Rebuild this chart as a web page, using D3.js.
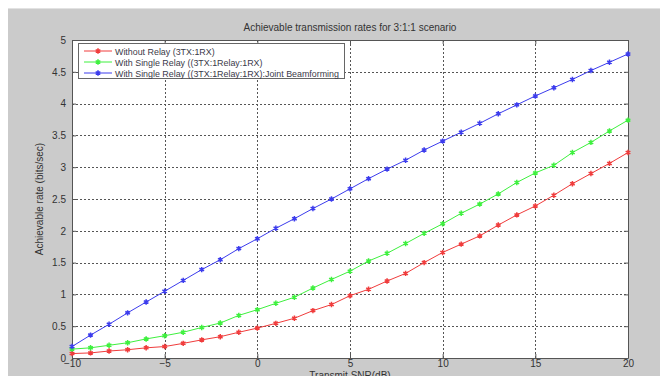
<!DOCTYPE html>
<html>
<head>
<meta charset="utf-8">
<script src="https://cdn.jsdelivr.net/npm/d3@7"></script>
<style>
  body { margin: 0; background: #fff; }
  text { font-family: "Liberation Sans", Arial, sans-serif; }
</style>
</head>
<body>
<svg id="chart" width="665" height="376"></svg>
<script>
// data
const snr = d3.range(-10, 21); // -10 ... 20 dB
const noRelay = [0.07, 0.08, 0.11, 0.13, 0.16, 0.18, 0.23, 0.285, 0.335, 0.405, 0.47,
  0.545, 0.625, 0.745, 0.84, 0.98, 1.08, 1.21, 1.33, 1.50, 1.66,
  1.79, 1.92, 2.09, 2.25, 2.39, 2.56, 2.74, 2.90, 3.06, 3.23];
const singleRelay = [0.14, 0.16, 0.20, 0.24, 0.30, 0.35, 0.405, 0.48, 0.55, 0.67, 0.76,
  0.86, 0.955, 1.10, 1.235, 1.365, 1.525, 1.646, 1.80, 1.96, 2.11,
  2.275, 2.42, 2.58, 2.76, 2.91, 3.03, 3.23, 3.39, 3.57, 3.74];
const jointBf = [0.18, 0.36, 0.53, 0.71, 0.88, 1.05, 1.22, 1.39, 1.545, 1.72, 1.875,
  2.04, 2.19, 2.35, 2.50, 2.66, 2.82, 2.97, 3.11, 3.27, 3.41,
  3.55, 3.69, 3.84, 3.98, 4.12, 4.25, 4.38, 4.52, 4.65, 4.78];
const seriesNames = ["Without Relay (3TX:1RX)", "With Single Relay ((3TX:1Relay:1RX)",
  "With Single Relay ((3TX:1Relay:1RX):Joint Beamforming"];
const seriesColors = ["#f03c3c", "#3ef03e", "#3c3ced"];
const xTicks = [-10, -5, 0, 5, 10, 15, 20];
const yTicks = [0, 0.5, 1, 1.5, 2, 2.5, 3, 3.5, 4, 4.5, 5];

const svg = d3.select("#chart");

// figure background
svg.append("rect").attr("x", 8).attr("y", 8).attr("width", 652).attr("height", 368).attr("fill", "#cbcbcb");
svg.append("line").attr("x1", 8).attr("x2", 660).attr("y1", 8.5).attr("y2", 8.5).attr("stroke", "#e2e2e2");

const pLeft = 72, pRight = 628, pTop = 40, pBottom = 358;
const x = d3.scaleLinear().domain([-10, 20]).range([pLeft, pRight]);
const y = d3.scaleLinear().domain([0, 5]).range([pBottom, pTop]);

svg.append("rect").attr("x", pLeft).attr("y", pTop).attr("width", pRight - pLeft).attr("height", pBottom - pTop).attr("fill", "#fff");

// grid
const grid = svg.append("g").attr("stroke", "#555").attr("stroke-dasharray", "2,2").attr("stroke-width", 1);
grid.selectAll(".gx").data(xTicks.slice(1, -1)).join("line")
  .attr("x1", d => Math.round(x(d)) + 0.5).attr("x2", d => Math.round(x(d)) + 0.5)
  .attr("y1", pTop).attr("y2", pBottom);
grid.selectAll(".gy").data(yTicks.slice(1, -1)).join("line")
  .attr("y1", d => Math.round(y(d)) + 0.5).attr("y2", d => Math.round(y(d)) + 0.5)
  .attr("x1", pLeft).attr("x2", pRight);

// axes, ticks pointing inward like matlab
const axB = svg.append("g").attr("transform", `translate(0,${pBottom})`)
  .call(d3.axisBottom(x).tickValues(xTicks).tickSizeInner(-4).tickSizeOuter(0).tickPadding(2));
const axT = svg.append("g").attr("transform", `translate(0,${pTop})`)
  .call(d3.axisTop(x).tickValues(xTicks).tickSizeInner(-4).tickSizeOuter(0).tickFormat(""));
const axL = svg.append("g").attr("transform", `translate(${pLeft},0)`)
  .call(d3.axisLeft(y).tickValues(yTicks).tickSizeInner(-4).tickSizeOuter(0).tickPadding(6).tickFormat(d3.format("")));
const axR = svg.append("g").attr("transform", `translate(${pRight},0)`)
  .call(d3.axisRight(y).tickValues(yTicks).tickSizeInner(-4).tickSizeOuter(0).tickFormat(""));
[axB, axT, axL, axR].forEach(a => {
  a.selectAll("path, line").attr("stroke", "#555");
  a.selectAll("text").attr("fill", "#333").style("font-size", "10px");
});

// lines + markers
const allSeries = [noRelay, singleRelay, jointBf];
const line = d3.line().x((d, i) => x(snr[i])).y(d => y(d));
const star = d3.symbol().type(d3.symbolAsterisk).size(20);
allSeries.forEach((vals, k) => {
  svg.append("path").datum(vals).attr("fill", "none").attr("stroke", seriesColors[k]).attr("stroke-width", 1).attr("d", line);
  svg.append("g").selectAll("path").data(vals).join("path")
    .attr("transform", (d, i) => `translate(${x(snr[i])},${y(d)})`)
    .attr("d", star).attr("fill", "none").attr("stroke", seriesColors[k]).attr("stroke-width", 1.5);
});

// labels
svg.append("text").attr("x", (pLeft + pRight) / 2).attr("y", 31).attr("text-anchor", "middle")
  .attr("fill", "#333").style("font-size", "10px").text("Achievable transmission rates for 3:1:1 scenario");
svg.append("text").attr("x", (pLeft + pRight) / 2).attr("y", 379).attr("text-anchor", "middle")
  .attr("fill", "#333").style("font-size", "10px").text("Transmit SNR(dB)");
svg.append("text").attr("transform", `translate(43,${(pTop + pBottom) / 2}) rotate(-90)`).attr("text-anchor", "middle")
  .attr("fill", "#333").style("font-size", "10px").text("Achievable rate (bits/sec)");

// legend
const lg = svg.append("g");
lg.append("rect").attr("x", 78.5).attr("y", 43.5).attr("width", 266).attr("height", 35)
  .attr("fill", "#fff").attr("stroke", "#666");
seriesNames.forEach((name, k) => {
  const ly = 51 + k * 11;
  lg.append("line").attr("x1", 84).attr("x2", 112).attr("y1", ly).attr("y2", ly).attr("stroke", seriesColors[k]);
  lg.append("path").attr("transform", `translate(98,${ly})`).attr("d", star).attr("fill", "none")
    .attr("stroke", seriesColors[k]).attr("stroke-width", 1.5);
  lg.append("text").attr("x", 115).attr("y", ly + 3.5).attr("fill", "#3a3a48").style("font-size", "8.9px").text(name);
});
</script>
</body>
</html>
